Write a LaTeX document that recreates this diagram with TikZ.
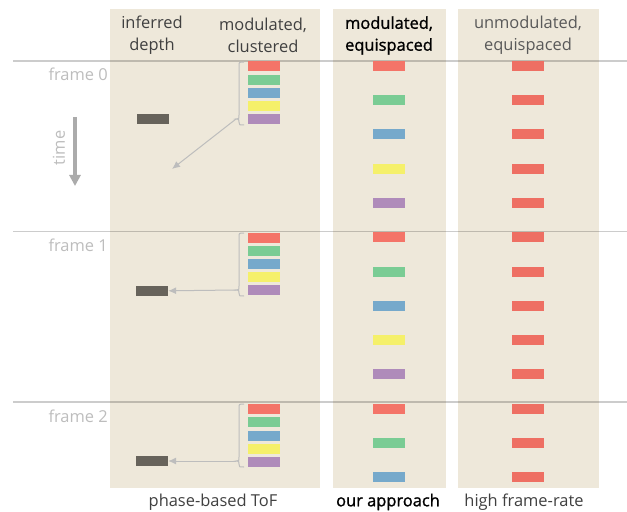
\documentclass[tikz,border=0pt]{standalone}
\usepackage{fontspec}
\setmainfont{Open Sans}
\newfontface\semibold{Open Sans}[FakeBold=1.2]
\usetikzlibrary{positioning}
\usetikzlibrary{arrows.meta}
\definecolor{paper}{HTML}{EEE8DA}
\definecolor{cred}{HTML}{F47468}
\definecolor{cgreen}{HTML}{7ACC94}
\definecolor{cblue}{HTML}{76A9CB}
\definecolor{cyellow}{HTML}{F5F06A}
\definecolor{cpurple}{HTML}{AF8BBA}
\definecolor{credd}{HTML}{EE6F63}
\definecolor{cdepth}{HTML}{67635B}
\definecolor{faint}{HTML}{BDBDBD}
\tikzset{
    bar/.style = {rectangle, inner sep=0pt, minimum width=32bp, minimum height=10bp},
    barr/.style = {bar, fill=cred},
    barg/.style = {bar, fill=cgreen},
    barb/.style = {bar, fill=cblue},
    bary/.style = {bar, fill=cyellow},
    barp/.style = {bar, fill=cpurple},
    barh/.style = {bar, fill=credd},
    bard/.style = {bar, fill=cdepth},
    panel/.style = {fill=paper},
    frameline/.style = {line width=1.5bp, black, opacity=0.2},
    framelab/.style = {anchor=east, inner sep=0pt, text=faint},
    head/.style = {align=center, inner sep=0pt, text=black!75},
    headb/.style = {head, text=black, font=\semibold},
    brace/.style = {line width=1bp, faint},
    edgea/.style = {-{Latex[length=8bp,width=7bp]}, line width=1bp, faint}, % to depth
    every picture/.style={font issue=\fontsize{16.5}{22}},
    font issue/.style={execute at begin picture={#1\selectfont}}
}
\begin{document}
\begin{tikzpicture}[x=1bp, y=-1bp]
  \useasboundingbox (0,0) rectangle (627,512);
  \fill[panel] (110,9) rectangle (320,488);
  \fill[panel] (333,9) rectangle (446,488);
  \fill[panel] (458,9) rectangle (599,488);

  \draw[frameline] (13,61) -- (627,61);
  \draw[frameline] (13,231.5) -- (627,231.5);
  \draw[frameline] (13,402) -- (627,402);

  % headers
  \node[head] (hdepth) at (152,35.5) {inferred\\depth};
  \node[head] (hclust) at (263,35.5) {modulated,\\clustered};
  \node[headb] (hours) at (389,35.5) {modulated,\\equispaced};
  \node[head, text=black!65] (hhigh) at (528,35.5) {unmodulated,\\equispaced};
  \node[head] (fphase) at (213,502) {phase-based ToF};
  \node[headb] (fours) at (388,502) {our approach};
  \node[head] (fhigh) at (524,502) {high frame-rate};

  \node[framelab] (f0) at (108,74) {frame 0};
  \node[framelab] (f1) at (108,245) {frame 1};
  \node[framelab] (f2) at (108,416) {frame 2};

  \coordinate (t0) at (75,117);
  \coordinate (t1) at (75,186);
  \draw[-{Triangle[length=11bp,width=11bp]}, line width=4.5bp, black!33] (t0) -- (t1);
  \node[rotate=90, text=faint, inner sep=0pt] (time) at (59,148) {time};

  % modulated, clustered
  \node[barr] (c0r) at (264,66) {};  \node[barg] (c0g) at (264,80) {};
  \node[barb] (c0b) at (264,93) {};  \node[bary] (c0y) at (264,106) {};
  \node[barp] (c0p) at (264,119) {};
  \node[barr] (c1r) at (264,238) {}; \node[barg] (c1g) at (264,251) {};
  \node[barb] (c1b) at (264,264) {}; \node[bary] (c1y) at (264,277) {};
  \node[barp] (c1p) at (264,290) {};
  \node[barr] (c2r) at (264,409) {}; \node[barg] (c2g) at (264,422) {};
  \node[barb] (c2b) at (264,436) {}; \node[bary] (c2y) at (264,449) {};
  \node[barp] (c2p) at (264,462) {};

  % inferred depth
  \node[bard] (d0) at (153,119) {};
  \node[bard] (d1) at (152,291) {};
  \node[bard] (d2) at (152,461) {};

  \draw[brace] (244,62) .. controls (239,62) .. (239,66) -- (239,115) .. controls (239,119) .. (236,119)
    .. controls (239,119) .. (239,122) .. controls (239,125) .. (244,125);
  \draw[brace] (244,233) .. controls (239,233) .. (239,237) -- (239,286) .. controls (239,290) .. (236,290)
    .. controls (239,290) .. (239,293) .. controls (239,296) .. (244,296);
  \draw[brace] (244,404) .. controls (239,404) .. (239,408) -- (239,457) .. controls (239,461) .. (236,461)
    .. controls (239,461) .. (239,464) .. controls (239,467) .. (244,467);
  \coordinate (k0) at (236,119);
  \coordinate (k1) at (236,290);
  \coordinate (k2) at (236,461);
  \coordinate (e0) at (172,169);
  \draw[edgea] (k0) -- (e0);
  \draw[edgea] (k1) -- (d1);
  \draw[edgea] (k2) -- (d2);

  % modulated, equispaced
  \node[barr] (m1) at (389,66) {};
  \node[barg] (m2) at (389,100.25) {};
  \node[barb] (m3) at (389,134.5) {};
  \node[bary] (m4) at (389,168.75) {};
  \node[barp] (m5) at (389,203) {};
  \node[barr] (m6) at (389,237.25) {};
  \node[barg] (m7) at (389,271.5) {};
  \node[barb] (m8) at (389,305.75) {};
  \node[bary] (m9) at (389,340) {};
  \node[barp] (m10) at (389,374.25) {};
  \node[barr] (m11) at (389,408.5) {};
  \node[barg] (m12) at (389,442.75) {};
  \node[barb] (m13) at (389,477) {};

  % unmodulated, equispaced
  \node[barh] (u1) at (528,66) {};
  \node[barh] (u2) at (528,100.25) {};
  \node[barh] (u3) at (528,134.5) {};
  \node[barh] (u4) at (528,168.75) {};
  \node[barh] (u5) at (528,203) {};
  \node[barh] (u6) at (528,237.25) {};
  \node[barh] (u7) at (528,271.5) {};
  \node[barh] (u8) at (528,305.75) {};
  \node[barh] (u9) at (528,340) {};
  \node[barh] (u10) at (528,374.25) {};
  \node[barh] (u11) at (528,408.5) {};
  \node[barh] (u12) at (528,442.75) {};
  \node[barh] (u13) at (528,477) {};
\end{tikzpicture}
\end{document}
